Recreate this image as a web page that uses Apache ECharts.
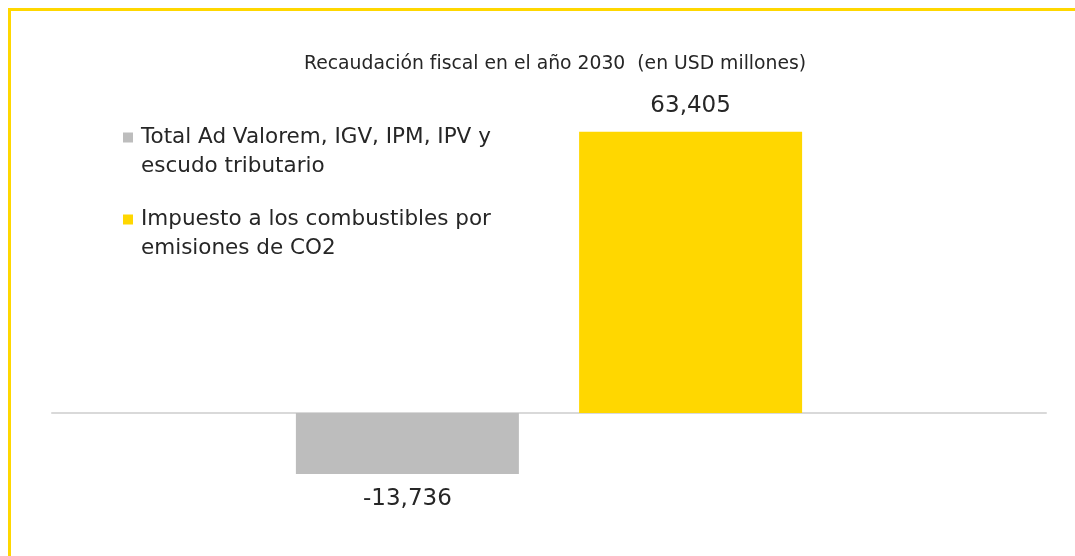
<!DOCTYPE html>
<html lang="es">
<head>
    <meta charset="UTF-8">
    <title>Recaudación fiscal</title>
    <script src="https://cdn.jsdelivr.net/npm/echarts@6/dist/echarts.min.js"></script>
    <style>
        html, body { margin: 0; padding: 0; background: #fff; }
    </style>
</head>
<body>
    <div id="main" style="width: 1075px; height: 556px;"></div>
<script>
    // datos del gráfico
    var categorias = ['2030'];
    var nombresSeries = [
        'Total Ad Valorem, IGV, IPM, IPV y escudo tributario',
        'Impuesto a los combustibles por emisiones de CO2'
    ];
    var nombresLeyenda = [
        'Total Ad Valorem, IGV, IPM, IPV y\nescudo tributario',
        'Impuesto a los combustibles por\nemisiones de CO2'
    ];
    var valoresAdValorem = [-13736];
    var valoresCO2 = [63405];
    var colores = ['#BDBDBD', '#FFD700'];

    var fuente = 'DejaVu Sans';
    var myChart = echarts.init(document.getElementById('main'));

    function fmt(p) {
        return p.value.toLocaleString('en-US');
    }

    // icono: cuadrado alineado con la primera línea del texto
    var icono = 'path://M0,0h0.01v0.01h-0.01z M0,9.5h10v10h-10z M9.99,57.99h0.01v0.01h-0.01z';

    var option = {
        backgroundColor: '#fff',
        title: {
            text: 'Recaudación fiscal en el año 2030  (en USD millones)',
            left: 299,
            top: 50,
            textStyle: { fontFamily: fuente, fontSize: 18.8, fontWeight: 'normal', color: '#262626' }
        },
        legend: {
            orient: 'vertical',
            left: 123,
            top: 123,
            padding: 0,
            itemWidth: 10,
            itemHeight: 58,
            itemGap: 24,
            icon: icono,
            data: nombresSeries,
            formatter: function (name) {
                return nombresLeyenda[nombresSeries.indexOf(name)];
            },
            textStyle: { fontFamily: fuente, fontSize: 21.5, lineHeight: 29, color: '#262626', padding: [0, 0, 0, 3] }
        },
        grid: { left: 52, right: 29, top: 102.4, height: 443.7 },
        xAxis: {
            type: 'category',
            data: categorias,
            axisLine: { lineStyle: { color: '#D9D9D9', width: 2 } },
            axisTick: { show: false },
            axisLabel: { show: false }
        },
        yAxis: {
            type: 'value',
            min: -30000,
            max: 70000,
            show: false,
            splitLine: { show: false }
        },
        graphic: [{
            type: 'rect',
            shape: { x: 9.5, y: 9.5, width: 1200, height: 700 },
            style: { fill: null, stroke: '#FFD700', lineWidth: 3 },
            silent: true
        }],
        series: [{
            name: nombresSeries[0],
            type: 'bar',
            data: valoresAdValorem,
            barWidth: 223,
            barGap: '27%',
            itemStyle: { color: colores[0] },
            label: {
                show: true, position: 'bottom', distance: 14,
                formatter: fmt,
                fontFamily: fuente, fontSize: 23, color: '#262626'
            }
        }, {
            name: nombresSeries[1],
            type: 'bar',
            data: valoresCO2,
            barWidth: 223,
            itemStyle: { color: colores[1] },
            label: {
                show: true, position: 'top', distance: 14,
                formatter: fmt,
                fontFamily: fuente, fontSize: 23, color: '#262626'
            }
        }]
    };
    myChart.setOption(option);
</script>
</body>
</html>
